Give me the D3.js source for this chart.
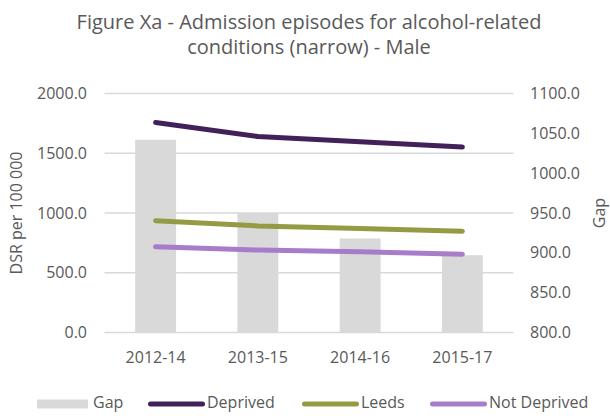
<!DOCTYPE html>
<html>
<head>
<meta charset="utf-8">
<script src="https://cdn.jsdelivr.net/npm/d3@7"></script>
<style>
  body { margin: 0; background: #fff; }
  svg { display: block; font-family: "Open Sans", sans-serif; }
</style>
</head>
<body>
<svg id="chart" width="610" height="416"></svg>
<script>
// chart data
const periods = ["2012-14", "2013-15", "2014-16", "2015-17"];
const gap = [1042, 950, 918, 897];
const deprived = [1758, 1640, 1596, 1552];
const leeds = [936, 892, 870, 848];
const notDeprived = [717, 690, 675, 655];

const leftTicks = [0, 500, 1000, 1500, 2000];
const rightTicks = [800, 850, 900, 950, 1000, 1050, 1100];

const titleLines = ["Figure Xa - Admission episodes for alcohol-related", "conditions (narrow) - Male"];

const seriesList = [
    { name: "Deprived", values: deprived, color: "#42205a" },
    { name: "Leeds", values: leeds, color: "#959b45" },
    { name: "Not Deprived", values: notDeprived, color: "#a87cc9" }
];

const textColor = "#595959";
const gridColor = "#d9d9d9";
const fontSize = 16;

const svg = d3.select("#chart");

const plot = { left: 104.5, right: 513.5, top: 93.5, bottom: 332.5 };

const x = d3.scaleBand()
    .domain(periods)
    .range([plot.left, plot.right])
    .padding(0);

const yLeft = d3.scaleLinear().domain([0, 2000]).range([plot.bottom, plot.top]);
const yRight = d3.scaleLinear().domain([800, 1100]).range([plot.bottom, plot.top]);

//title
svg.append("g")
    .selectAll("text")
    .data(titleLines)
    .join("text")
    .attr("x", 309)
    .attr("y", (d, i) => 28.5 + i * 25)
    .attr("text-anchor", "middle")
    .attr("font-size", 20)
    .attr("fill", textColor)
    .text(d => d);

//gridlines
svg.append("g")
    .selectAll("line")
    .data(leftTicks)
    .join("line")
    .attr("x1", plot.left)
    .attr("x2", plot.right)
    .attr("y1", d => yLeft(d))
    .attr("y2", d => yLeft(d))
    .attr("stroke", gridColor)
    .attr("stroke-width", 1.3);

//bars for gap, measured on the right axis
const barWidth = x.bandwidth() * 0.4;
svg.append("g")
    .selectAll("rect")
    .data(periods)
    .join("rect")
    .attr("x", d => x(d) + (x.bandwidth() - barWidth) / 2)
    .attr("y", (d, i) => yRight(gap[i]))
    .attr("width", barWidth)
    .attr("height", (d, i) => yRight(800) - yRight(gap[i]))
    .attr("fill", gridColor);

//lines
const line = d3.line()
    .x((d, i) => x(periods[i]) + x.bandwidth() / 2)
    .y(d => yLeft(d));

svg.append("g")
    .selectAll("path")
    .data(seriesList)
    .join("path")
    .attr("d", d => line(d.values))
    .attr("fill", "none")
    .attr("stroke", d => d.color)
    .attr("stroke-width", 5)
    .attr("stroke-linecap", "round")
    .attr("stroke-linejoin", "round");

//left axis
const leftAxis = svg.append("g")
    .attr("transform", `translate(87,0)`)
    .call(d3.axisLeft(yLeft).tickValues(leftTicks).tickFormat(d3.format(".1f")).tickSize(0).tickPadding(0));
leftAxis.select(".domain").remove();
leftAxis.selectAll("text").attr("font-size", fontSize).attr("fill", textColor).attr("font-family", "Open Sans");

//right axis
const rightAxis = svg.append("g")
    .attr("transform", `translate(530,0)`)
    .call(d3.axisRight(yRight).tickValues(rightTicks).tickFormat(d3.format(".1f")).tickSize(0).tickPadding(0));
rightAxis.select(".domain").remove();
rightAxis.selectAll("text").attr("font-size", fontSize).attr("fill", textColor).attr("font-family", "Open Sans");

//x axis
const xAxis = svg.append("g")
    .attr("transform", `translate(0,${plot.bottom})`)
    .call(d3.axisBottom(x).tickSize(0).tickPadding(0));
xAxis.select(".domain").remove();
xAxis.selectAll("text")
    .attr("y", 30).attr("dy", null)
    .attr("font-size", fontSize).attr("fill", textColor).attr("font-family", "Open Sans");

//axis titles
svg.append("text")
    .attr("transform", `translate(22,${(plot.top + plot.bottom) / 2}) rotate(-90)`)
    .attr("text-anchor", "middle")
    .attr("font-size", fontSize)
    .attr("fill", textColor)
    .text("DSR per 100 000");

svg.append("text")
    .attr("transform", `translate(605,${(plot.top + plot.bottom) / 2}) rotate(-90)`)
    .attr("text-anchor", "middle")
    .attr("font-size", fontSize)
    .attr("fill", textColor)
    .text("Gap");

//legend
const legendY = 404;
const legend = svg.append("g");
legend.append("rect")
    .attr("x", 37).attr("y", legendY - 4.5)
    .attr("width", 51).attr("height", 9)
    .attr("fill", gridColor);
legend.append("text")
    .attr("x", 93).attr("y", legendY + 4)
    .attr("font-size", fontSize).attr("fill", textColor)
    .text("Gap");

const legendX = [148, 302, 430];
seriesList.forEach((s, i) => {
    legend.append("line")
        .attr("x1", legendX[i] + 2.5).attr("x2", legendX[i] + 54.5)
        .attr("y1", legendY).attr("y2", legendY)
        .attr("stroke", s.color)
        .attr("stroke-width", 5)
        .attr("stroke-linecap", "round");
    legend.append("text")
        .attr("x", legendX[i] + 59).attr("y", legendY + 4)
        .attr("font-size", fontSize).attr("fill", textColor)
        .text(s.name);
});
</script>
</body>
</html>
